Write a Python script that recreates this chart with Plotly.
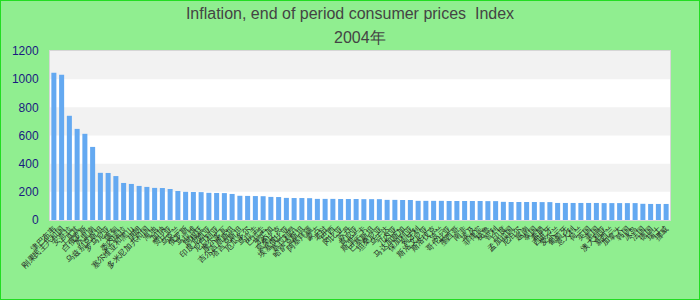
import plotly.graph_objects as go

title_line1 = "Inflation, end of period consumer prices  Index"
title_line2 = "2004年"

countries = [
    "津巴布韦", "刚果民主共和国", "安哥拉", "土耳其", "白俄罗斯", "苏里南",
    "乌兹别克斯坦", "罗马尼亚", "缅甸", "委内瑞拉", "塞尔维亚和黑山", "伊朗",
    "多米尼加共和国", "海地", "加纳", "赞比亚", "乌克兰", "俄罗斯", "马拉维",
    "阿根廷", "印度尼西亚", "尼日利亚", "摩尔多瓦", "吉尔吉斯斯坦", "塔吉克斯坦",
    "厄瓜多尔", "乌拉圭", "巴拉圭", "牙买加", "莫桑比克", "埃塞俄比亚",
    "塞拉利昂", "哈萨克斯坦", "阿塞拜疆", "蒙古", "老挝", "巴西", "冈比亚",
    "苏丹", "肯尼亚", "斯里兰卡", "巴基斯坦", "坦桑尼亚", "乌干达", "几内亚",
    "马达加斯加", "保加利亚", "匈牙利", "斯洛文尼亚", "斯洛伐克", "波兰",
    "哥伦比亚", "墨西哥", "南非", "埃及", "菲律宾", "秘鲁", "智利", "印度",
    "孟加拉国", "尼泊尔", "越南", "泰国", "希腊", "西班牙", "爱尔兰", "葡萄牙",
    "意大利", "荷兰", "英国", "美国", "澳大利亚", "新西兰", "加拿大", "韩国",
    "冰岛", "法国", "德国", "瑞士", "挪威",
]

values = [
    1046, 1032, 740, 647, 612, 519, 335, 334, 312, 263,
    256, 242, 235, 228, 227, 220, 206, 200, 199, 198,
    193, 192, 191, 185, 172, 171, 170, 169, 164, 163,
    157, 156, 156, 155, 150, 150, 150, 149, 149, 149,
    148, 148, 148, 143, 143, 142, 142, 136, 136, 136,
    136, 135, 135, 135, 135, 135, 134, 134, 129, 128,
    128, 128, 128, 127, 127, 121, 121, 121, 121, 121,
    121, 120, 120, 120, 120, 120, 115, 114, 114, 114,
]

assert len(countries) == len(values)

bands = [(1000, 1200), (600, 800), (200, 400)]

W, H = 700, 300
ML, MR, MT, MB = 50, 30, 51, 80
pw, ph = W - ML - MR, H - MT - MB

fig = go.Figure()
fig.add_trace(go.Bar(
    x=countries, y=values,
    marker=dict(color="#64a9f1", line=dict(width=0)),
))

shapes = []
for lo, hi in bands:
    shapes.append(dict(type="rect", xref="paper", yref="y", x0=0, x1=1, y0=lo, y1=hi,
                       fillcolor="#f2f2f2", line=dict(width=0), layer="below"))
shapes.append(dict(type="rect", xref="paper", yref="paper",
                   x0=-ML / pw, x1=1 + MR / pw, y0=-MB / ph, y1=1 + MT / ph,
                   line=dict(color="#22dd22", width=2), fillcolor="rgba(0,0,0,0)",
                   layer="above"))

title_font = dict(family="Liberation Sans, Arial, sans-serif", size=16, color="#444444")

fig.update_layout(
    width=W, height=H,
    margin=dict(l=ML, r=MR, t=MT, b=MB, autoexpand=False),
    paper_bgcolor="#90ee90",
    plot_bgcolor="#ffffff",
    font=dict(family="Liberation Sans, Arial, sans-serif"),
    title=dict(text=title_line1, x=0.5, xanchor="center",
               y=1 - 13 / H, yanchor="middle", font=title_font),
    annotations=[dict(text=title_line2, xref="paper", yref="paper",
                      x=0.5, y=1 + (MT - 37) / ph, xanchor="center", yanchor="middle",
                      showarrow=False, font=title_font)],
    bargap=0.35,
    showlegend=False,
    shapes=shapes,
)
fig.update_xaxes(
    type="category", tickmode="array", tickvals=countries, ticktext=countries,
    tickangle=-45, tickfont=dict(size=8, color="#222222"),
    showline=True, linecolor="#d6d6d6", mirror=True, showgrid=False, automargin=False,
)
fig.update_yaxes(
    range=[0, 1200], dtick=200, showgrid=False, zeroline=False,
    tickfont=dict(size=12, color="#1a1a80"), ticklabelstandoff=8,
    showline=True, linecolor="#d6d6d6", mirror=True, automargin=False,
)

fig.write_html("out.html")
